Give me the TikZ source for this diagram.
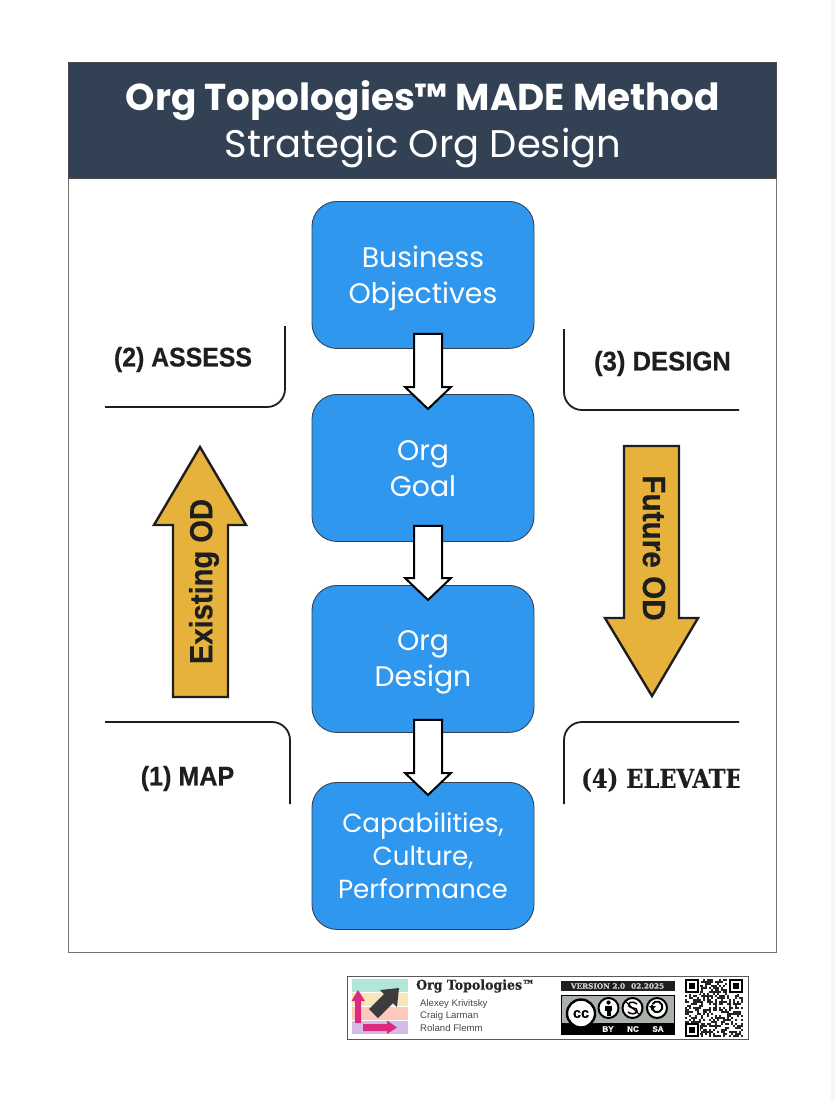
\documentclass[tikz,border=0pt]{standalone}
\usepackage{fontspec}
\usetikzlibrary{calc}
\setmainfont{Liberation Sans}
\newfontfamily\headfont{Poppins}
\newfontfamily\labelfont[BoldFeatures={FakeBold=0.5}]{Liberation Sans}
\newfontfamily\slabfont[BoldFeatures={FakeBold=0.5}]{DejaVu Serif}
\definecolor{navy}{HTML}{334155}
\definecolor{boxblue}{HTML}{2F98EE}
\definecolor{gold}{HTML}{E6B23C}
\definecolor{ink}{HTML}{1E1E1E}
\definecolor{badge}{HTML}{AAB0AA}
\definecolor{magent}{HTML}{DC2A7E}
\definecolor{darkarrow}{HTML}{3C3C3C}
\tikzset{
  x=1pt,y=-1pt,
  stepbox/.style={draw=navy,line width=0.9pt,fill=boxblue,rounded corners=25pt,minimum width=222pt,minimum height=147pt,
     text=white,align=center,font=\headfont\fontsize{28.3}{36}\selectfont,inner sep=0pt,anchor=north},
  flow/.style={draw=black,line width=2pt,fill=white,line join=miter},
  goldarrow/.style={draw=ink,line width=2.4pt,fill=gold,line join=miter},
  corner/.style={draw=ink,line width=1.8pt,rounded corners=18pt},
  phase/.style={text=ink,font=\labelfont\bfseries\fontsize{27}{30}\selectfont,inner sep=0pt},
  alongtext/.style={text=ink,font=\labelfont\bfseries\fontsize{32}{34}\selectfont,inner sep=0pt},
  author/.style={text=black!72,font=\labelfont\fontsize{9.6}{11}\selectfont,anchor=west,inner sep=0pt},
  ccring/.style={draw=black,fill=white,line width=2pt},
  badgeword/.style={font=\labelfont\bfseries\fontsize{8}{9}\selectfont,text=white,inner sep=0pt},
}
\newcommand{\blockarrow}[4]{%
  \draw[flow] ($(#1.south)+(-9,#3)$) -- ($(#1.south)+(19,#3)$) --
     ($(#2.north)+(19,#4-22)$) -- ($(#2.north)+(28,#4-22)$) -- ($(#2.north)+(5,#4)$) --
     ($(#2.north)+(-18,#4-22)$) -- ($(#2.north)+(-9,#4-22)$) -- cycle;}
\begin{document}
\begin{tikzpicture}
\useasboundingbox (0,0) rectangle (836,1100);
\fill[white] (0,0) rectangle (836,1100);
\fill[black!4] (831,0) rectangle (835,1100);
% frame
\draw[black!55,line width=1pt] (68.5,62) rectangle (776,952.5);
\fill[navy] (68.5,62) rectangle (776,178);
\draw[black!70,line width=1pt] (68.5,62) rectangle (776,178);
\node[text=white,font=\headfont\bfseries\fontsize{37.4}{40}\selectfont,inner sep=0pt] (t1) at (423,101) {Org Topologies™ MADE Method};
\node[text=white,font=\headfont\fontsize{38.5}{40}\selectfont,inner sep=0pt] (t2) at (423,148) {Strategic Org Design};
% boxes
\node[stepbox] (b1) at (423,201) {\rule{0pt}{0pt}\\[-7.5pt]Business\\Objectives};
\node[stepbox] (b2) at (423,394) {\rule{0pt}{0pt}\\[-14.5pt]Org\\Goal};
\node[stepbox] (b3) at (423,585) {\rule{0pt}{0pt}\\[-9pt]Org\\Design};
\node[stepbox,font=\headfont\fontsize{26.2}{33}\selectfont] (b4) at (423,782) {Capabilities,\\Culture,\\Performance};
\blockarrow{b1}{b2}{-15}{15}
\blockarrow{b2}{b3}{-16}{15}
\blockarrow{b3}{b4}{-13}{13}
% corners
\draw[corner] (105,407) -- (285,407) -- (285,326);
\draw[corner] (564,329) -- (564,410) -- (739,410);
\draw[corner] (105,722) -- (290,722) -- (290,804);
\draw[corner] (739,722) -- (564,722) -- (564,804);
\node[phase] (p2) at (183,359.5) {\scalebox{0.92}[1]{(2) ASSESS}};
\node[phase] (p3) at (662.5,363.5) {\scalebox{0.95}[1]{(3) DESIGN}};
\node[phase] (p1) at (187.5,778.5) {\scalebox{0.93}[1]{(1) MAP}};
\begin{scope}
\clip (570,760) rectangle (739.5,800);
\node[phase,font=\slabfont\bfseries\fontsize{26}{30}\selectfont,anchor=west] (p4) at (581,780) {\scalebox{0.87}[1]{(4) ELEVATE}};
\end{scope}
% gold arrows
\draw[goldarrow] (200,447) -- (246,525) -- (228,525) -- (228,697) -- (173,697) -- (173,525) -- (154,525) -- cycle;
\node[alongtext,rotate=90] (ex) at (204,581.5) {\scalebox{0.91}[1]{Existing OD}};
\draw[goldarrow] (624,446) -- (679,446) -- (679,618) -- (698,618) -- (652,696) -- (605,618) -- (624,618) -- cycle;
\node[alongtext,rotate=270] (fu) at (654,548) {\scalebox{0.93}[1]{Future OD}};
% footer
\draw[black!65,line width=1pt] (347.5,976) rectangle (748,1039);
% logo grid
\foreach \r/\c in {0/B2E6D8,1/FAE5B8,2/FDC9BD,3/D3BDE8}{
  \foreach \k in {0,1,2,3}{
    \definecolor{cellc}{HTML}{\c}
    \fill[cellc] ({352+14*\k+0.4},{979+13.75*\r+0.4}) rectangle ++(13.2,12.95);
  }
}
\fill[magent] (358,990) -- (365,1001) -- (361,1001) -- (361,1023) -- (355,1023) -- (355,1001) -- (351.5,1001) -- cycle;
\fill[magent] (363,1024) -- (387,1024) -- (387,1020.5) -- (397,1027.5) -- (387,1034) -- (387,1031) -- (363,1031) -- cycle;
\fill[darkarrow] (399,988) -- (397,1007) -- (393,1003) -- (378,1018) -- (369,1009) -- (384,994) -- (380,990) -- cycle;
\node[font=\slabfont\bfseries\fontsize{13.5}{15}\selectfont,text=black!85,anchor=west,inner sep=0pt] (ot) at (416,986) {\scalebox{0.93}[1]{Org Topologies™}};
\node[author] (a1) at (420,1004) {Alexey Krivitsky};
\node[author] (a2) at (420,1016) {Craig Larman};
\node[author] (a3) at (420,1028) {Roland Flemm};
% version bar
\fill[black!88] (561,981) rectangle (675,991);
\node[text=black!18,font=\slabfont\bfseries\fontsize{7.3}{9}\selectfont,inner sep=0pt] (ver) at (617.5,986) {VERSION 2.0\hspace{6pt}02.2025};
% cc badge
\draw[black,line width=1pt,fill=badge] (561,995) rectangle (674,1034);
\fill[black] (561,1023) rectangle (674,1034);
\fill[badge] (565,1023) arc[start angle=180,end angle=0,x radius=16,y radius=-9] -- cycle;
\draw[ccring,line width=2.4pt] (581,1013.5) circle (14);
\node[font=\labelfont\bfseries\fontsize{14.5}{15}\selectfont,inner sep=0pt] (cc) at (581,1014) {cc};
\draw[ccring] (608.5,1008) circle (10);
\draw[ccring] (632.5,1008) circle (10);
\draw[ccring] (657,1008) circle (10);
\fill[black] (608.5,1002.5) circle (2.1);
\fill[black] (605,1005.5) rectangle (612,1011);
\fill[black] (606.5,1011) rectangle (610.5,1015.5);
\draw[black,line width=1.5pt] (637,1004) .. controls (632,1000) and (627,1003) .. (629,1006) .. controls (630,1009) and (638,1007) .. (637,1011) .. controls (636,1015) and (630,1014) .. (628,1012);
\draw[black,line width=1.2pt] (625,1001) -- (640,1015);
\draw[black,line width=1.9pt] (652,1005) arc[start angle=200,end angle=-150,radius=5.4];
\fill[black] (649,1006) -- (656,1006) -- (652.5,1010) -- cycle;
\node[badgeword] (by) at (608,1029) {BY};
\node[badgeword] (nc) at (633,1029) {NC};
\node[badgeword] (sa) at (658,1029) {SA};
% QR
\pgfmathsetseed{41}
\foreach \i in {0,...,28}{
  \foreach \j in {0,...,28}{
    \pgfmathparse{rnd<0.5?1:0}
    \ifnum\pgfmathresult=1
      \fill[black!85] ({685+2*\i},{979+2*\j}) rectangle ++(2,2);
    \fi
  }
}
\foreach \px/\py in {685/979,729/979,685/1023}{
  \fill[white] ({\px-0.5},{\py-0.5}) rectangle ++(15,15);
  \fill[black] (\px,\py) rectangle ++(14,14);
  \fill[white] ({\px+2},{\py+2}) rectangle ++(10,10);
  \fill[black] ({\px+4},{\py+4}) rectangle ++(6,6);
}
\end{tikzpicture}
\end{document}
